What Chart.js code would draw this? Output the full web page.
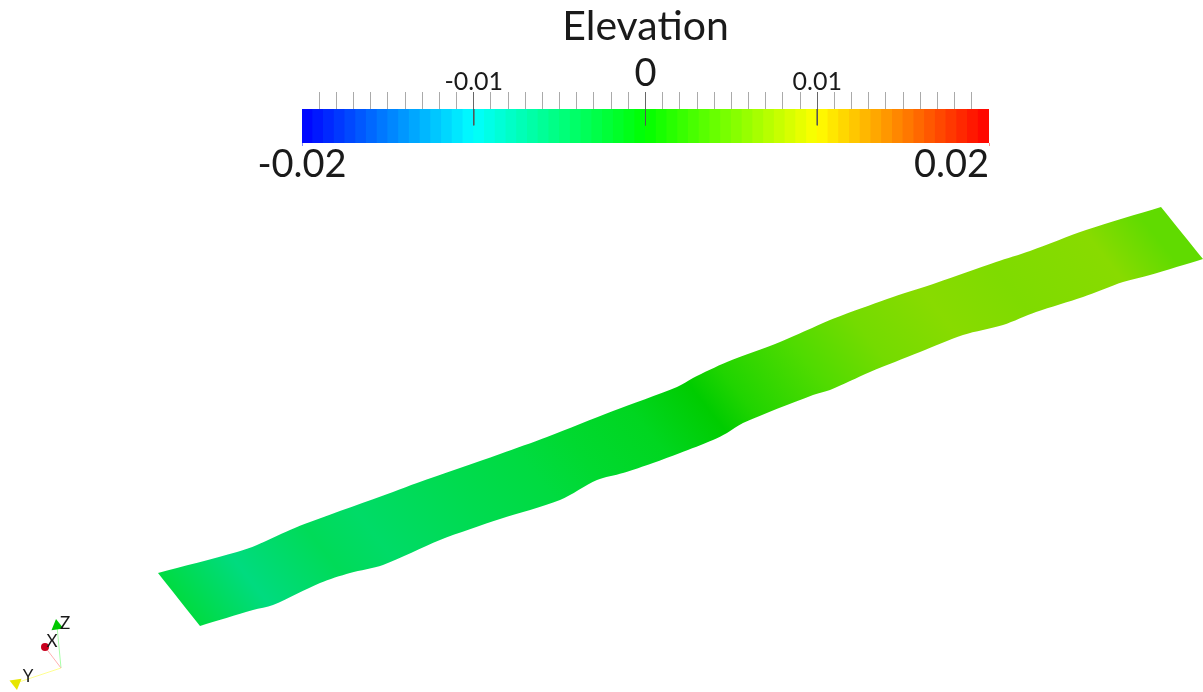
<!DOCTYPE html>
<html>
<head>
<meta charset="utf-8">
<title>Elevation</title>
<script src="https://cdn.jsdelivr.net/npm/chart.js@4/dist/chart.umd.min.js"></script>
<style>
  html, body { margin: 0; padding: 0; background: #fff; }
  canvas { position: absolute; left: 0; top: 0; }
</style>
</head>
<body>
<canvas id="ribbon" width="1203" height="692"></canvas>
<canvas id="bar" width="1203" height="692"></canvas>
<script>
// colour bar: centre value of each of the 64 bands
const bandElev = [
  -0.01969,-0.01906,-0.01844,-0.01781,-0.01719,-0.01656,-0.01594,-0.01531,
  -0.01469,-0.01406,-0.01344,-0.01281,-0.01219,-0.01156,-0.01094,-0.01031,
  -0.00969,-0.00906,-0.00844,-0.00781,-0.00719,-0.00656,-0.00594,-0.00531,
  -0.00469,-0.00406,-0.00344,-0.00281,-0.00219,-0.00156,-0.00094,-0.00031,
  0.00031,0.00094,0.00156,0.00219,0.00281,0.00344,0.00406,0.00469,
  0.00531,0.00594,0.00656,0.00719,0.00781,0.00844,0.00906,0.00969,
  0.01031,0.01094,0.01156,0.01219,0.01281,0.01344,0.01406,0.01469,
  0.01531,0.01594,0.01656,0.01719,0.01781,0.01844,0.01906,0.01969
];
const majorTicks = [-0.01, 0, 0.01];
const endTicks = [-0.02, 0.02];
const tickText = { '-0.010': '-0.01', '0.000': '0', '0.010': '0.01' };

// ribbon outline, in picture coordinates
const topX = [158,237,257,290,310,393,417,500,547,613,677,693,727,780,830,843,893,936,996,1030,1086,1161];
const topY = [573,552,545,530,522,492,483,454,437,411,387,378,362,342,320,315,297,283,262,251,230,207];
const botX = [1203,1150,1123,1083,1036,1003,963,920,870,830,813,743,727,713,680,653,623,597,560,500,440,383,350,320,273,253,200];
const botY = [259,275,282,297,312,325,335,352,372,390,395,423,433,440,453,463,473,480,500,519,540,565,573,583,605,610,626];

// elevation and lighting sampled along the ribbon
const sampleX = [180,250,320,373,473,540,580,647,707,747,813,870,946,1020,1110,1170];
const sampleY = [599,580,546,533,507,480,453,430,407,403,370,340,320,300,263,253];
const sampleElev = [-0.003,-0.0058,-0.004,-0.0047,-0.0036,-0.0029,-0.0022,-0.0015,0,0.0015,0.0036,0.0053,0.0062,0.0058,0.0062,0.0044];
const sampleShade = [0.86,0.86,0.86,0.86,0.86,0.86,0.85,0.84,0.8,0.83,0.86,0.86,0.86,0.86,0.86,0.86];

// orientation triad
const triadOrigin = [61, 668];
const triadTipX = [45, 16, 57];
const triadTipY = [647, 683, 626];
const triadNames = ['X', 'Y', 'Z'];
const triadTextX = [52, 28, 65];
const triadTextY = [642, 677, 624];

const FONT = 'Lato, "Open Sans", sans-serif';
const INK = '#1a1a1a';

// blue - cyan - green - yellow - red over -0.02..0.02
function rainbow(v, shade) {
  const t = Math.max(-1, Math.min(1, v / 0.02));
  let r = 0, g = 0, b = 0;
  if (t < -0.5) { g = (t + 1) * 2; b = 1; }
  else if (t < 0) { g = 1; b = -t * 2; }
  else if (t < 0.5) { r = t * 2; g = 1; }
  else { r = 1; g = (1 - t) * 2; }
  const s = shade === undefined ? 1 : shade;
  return `rgb(${Math.round(r*s*255)},${Math.round(g*s*255)},${Math.round(b*s*255)})`;
}

function ribbonFill(c) {
  const { chartArea, scales, ctx } = c.chart;
  if (!chartArea) return '#00dc40';
  // colour runs across the creases, which lie parallel to the cut ends
  const ux = 0.785, uy = -0.619, len = 1013;
  const px = (v) => scales.x.getPixelForValue(v), py = (v) => scales.y.getPixelForValue(v);
  const x0 = px(180), y0 = py(599);
  const g = ctx.createLinearGradient(x0, y0, x0 + ux * len, y0 + uy * len);
  sampleElev.forEach((e, i) => {
    const d = ((px(sampleX[i]) - x0) * ux + (py(sampleY[i]) - y0) * uy) / len;
    g.addColorStop(Math.max(0, Math.min(1, d)), rainbow(e, sampleShade[i]));
  });
  return g;
}

// corners are listed twice so the smoothing keeps them sharp
const topEdge = topX.map((x, i) => ({ x, y: topY[i] }));
const botEdge = botX.map((x, i) => ({ x, y: botY[i] }));
const outline = [topEdge[0], ...topEdge, topEdge[topEdge.length - 1], botEdge[0], ...botEdge, botEdge[botEdge.length - 1], topEdge[0], topEdge[0]];

const triadColors = ['#ffb0b0', '#ffff90', '#a8ffa8'];
const tipColors = ['#c8001e', '#e6e600', '#00c800'];
const tipStyles = ['circle', 'triangle', 'triangle'];
const tipRotation = [0, -68, -8];
const triadSets = triadNames.map((n, i) => ({
  label: n,
  data: [{ x: triadOrigin[0], y: triadOrigin[1] }, { x: triadTipX[i], y: triadTipY[i] }],
  showLine: true,
  borderColor: triadColors[i],
  borderWidth: 1,
  pointRadius: (c) => c.dataIndex === 1 ? (i === 0 ? 4 : 7) : 0,
  pointStyle: tipStyles[i],
  pointRotation: tipRotation[i],
  pointBackgroundColor: tipColors[i],
  pointBorderWidth: 0
}));

const triadText = {
  id: 'triadText',
  afterDraw(chart) {
    const { ctx, scales } = chart;
    ctx.save();
    ctx.font = '17px ' + FONT;
    ctx.fillStyle = INK;
    ctx.textAlign = 'center';
    ctx.textBaseline = 'middle';
    triadNames.forEach((n, i) => ctx.fillText(n, scales.x.getPixelForValue(triadTextX[i]), scales.y.getPixelForValue(triadTextY[i])));
    ctx.restore();
  }
};

new Chart(document.getElementById('ribbon'), {
  type: 'scatter',
  data: {
    datasets: [{
      label: 'Elevation',
      data: outline,
      showLine: true,
      fill: 'shape',
      backgroundColor: ribbonFill,
      borderWidth: 0,
      tension: 0.3,
      pointRadius: 0
    }].concat(triadSets)
  },
  options: {
    responsive: false,
    animation: false,
    layout: { padding: 0, autoPadding: false },
    plugins: { legend: { display: false }, tooltip: { enabled: false } },
    scales: {
      x: { type: 'linear', display: false, min: 0, max: 1203 },
      y: { type: 'linear', display: false, min: 0, max: 692, reverse: true }
    }
  },
  plugins: [triadText]
});

// end labels: 0.02 is flush right with the bar, so the axis ticks can't place them
const endLabels = {
  id: 'endLabels',
  afterDraw(chart) {
    const { ctx, scales } = chart;
    ctx.save();
    ctx.font = '38px ' + FONT;
    ctx.fillStyle = INK;
    ctx.textBaseline = 'alphabetic';
    ctx.textAlign = 'center';
    ctx.fillText('-0.02', scales.elev.getPixelForValue(endTicks[0]), 177);
    ctx.textAlign = 'right';
    ctx.fillText('0.02', scales.elev.getPixelForValue(endTicks[1]), 177);
    ctx.restore();
  }
};

const tickKey = (v) => Number(v).toFixed(3);
const isMajor = (v) => tickKey(v) in tickText;

new Chart(document.getElementById('bar'), {
  type: 'bar',
  data: {
    datasets: [{
      label: 'Elevation',
      data: bandElev.map((v) => ({ x: v, y: 1 })),
      backgroundColor: bandElev.map((v) => rainbow(v)),
      barThickness: 11,
      xAxisID: 'elev',
      order: 2
    }].concat(majorTicks.map((v) => ({
      type: 'scatter',
      label: String(v),
      data: [{ x: v, y: 1 }, { x: v, y: 0.52 }],
      showLine: true,
      borderColor: '#555',
      borderWidth: 1,
      pointRadius: 0,
      xAxisID: 'elev',
      order: 1
    })))
  },
  options: {
    responsive: false,
    animation: false,
    layout: { padding: { left: 302, right: 214, top: 0, bottom: 543 }, autoPadding: false },
    plugins: {
      legend: { display: false },
      tooltip: { enabled: false },
      title: {
        display: true,
        text: 'Elevation',
        fullSize: false,
        color: INK,
        font: { family: FONT, size: 41, weight: 'normal', lineHeight: 1.2 },
        padding: { top: 2, bottom: 0 }
      }
    },
    scales: {
      y: { type: 'linear', display: false, min: 0, max: 1 },
      elev: {
        type: 'linear',
        position: 'top',
        min: -0.02,
        max: 0.02,
        offset: false,
        afterFit(s) { s.height = 57.8; },
        border: { display: false },
        grid: {
          offset: false,
          drawOnChartArea: false,
          tickLength: 17,
          tickColor: (c) => {
            if (!c.tick) return '#aaa';
            if (Math.abs(Math.abs(c.tick.value) - 0.02) < 1e-6) return 'rgba(0,0,0,0)';
            return isMajor(c.tick.value) ? '#666' : '#aaa';
          },
          color: 'rgba(0,0,0,0)'
        },
        ticks: {
          stepSize: 0.001,
          autoSkip: false,
          maxRotation: 0,
          minRotation: 0,
          padding: -5,
          color: INK,
          font: (c) => ({ family: FONT, weight: 'normal', size: c.tick && tickKey(c.tick.value) === '0.000' ? 38 : 25 }),
          callback: (v) => tickText[tickKey(v)] || ''
        }
      },
      low: {
        type: 'linear',
        position: 'bottom',
        min: -0.02,
        max: 0.02,
        offset: false,
        afterFit(s) { s.height = 6; },
        afterBuildTicks(s) { s.ticks = endTicks.map((v) => ({ value: v })); },
        border: { display: false },
        grid: {
          offset: false,
          drawOnChartArea: false,
          tickLength: 3,
          tickColor: (c) => (c.tick && c.tick.value < 0) ? '#8888ff' : '#ff8888',
          color: 'rgba(0,0,0,0)'
        },
        ticks: { autoSkip: false, maxRotation: 0, callback: () => '' }
      }
    }
  },
  plugins: [endLabels]
});
</script>
</body>
</html>
